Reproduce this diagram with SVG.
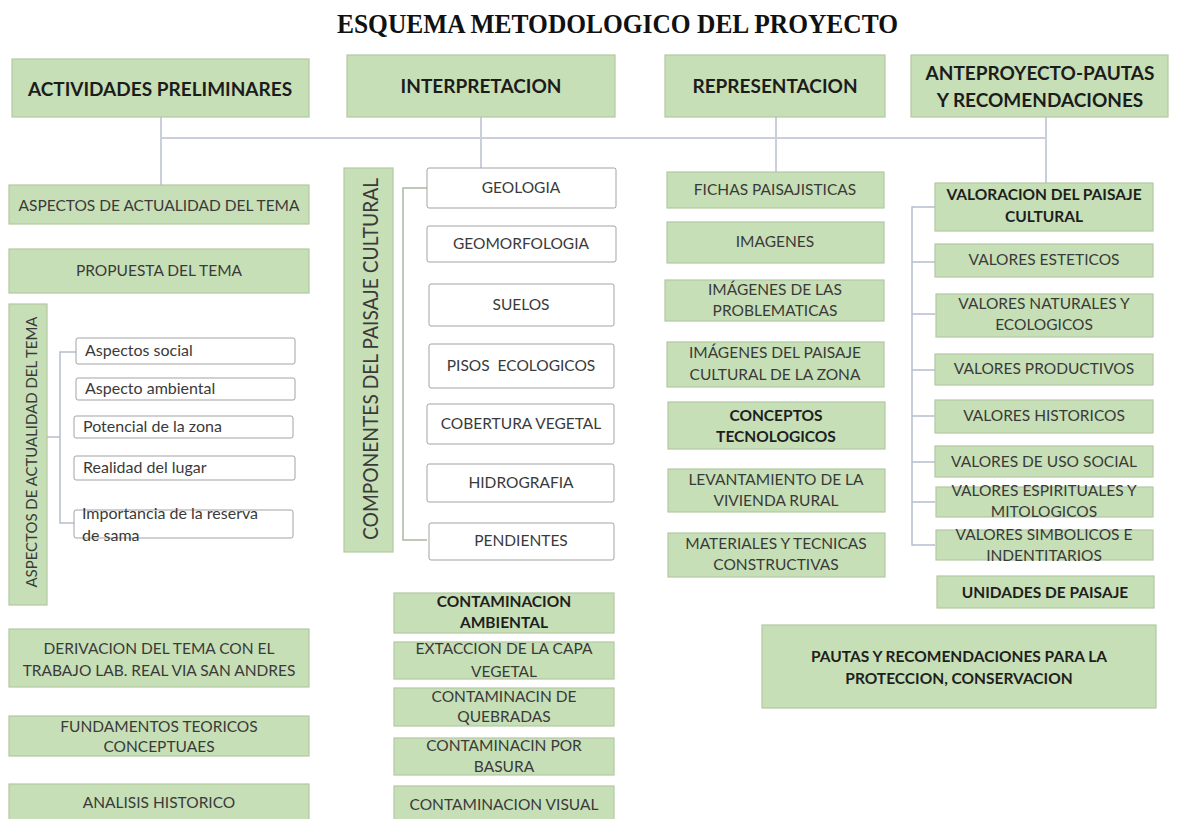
<svg xmlns="http://www.w3.org/2000/svg" width="1177" height="819" viewBox="0 0 1177 819">
<style>
.g{fill:#c7dfb6;stroke:#b2c9a2;stroke-width:1.2}
.w{fill:#ffffff;stroke:#a3a3a3;stroke-width:1}
.h{font-family:Lato,"Liberation Sans",sans-serif;font-weight:bold;font-size:19px;fill:#1c1c1c;text-anchor:middle}
.t{font-family:Lato,"Liberation Sans",sans-serif;font-size:15.5px;fill:#3a3a3a;text-anchor:middle}
.b{font-family:Lato,"Liberation Sans",sans-serif;font-weight:bold;font-size:15.5px;fill:#1e1e1e;text-anchor:middle}
.l{font-family:Lato,"Liberation Sans",sans-serif;font-size:16px;fill:#3a3a3a}
.c{fill:none;stroke:#c9d0db;stroke-width:2}
.k{fill:none;stroke:#b6bdd0;stroke-width:1.5}
.kg{fill:none;stroke:#aab89f;stroke-width:1.5}
.title{font-family:"Liberation Serif",serif;font-weight:bold;font-size:27px;fill:#111}
</style>
<text class="title" x="337" y="33" textLength="561" lengthAdjust="spacingAndGlyphs">ESQUEMA METODOLOGICO DEL PROYECTO</text>

<g id="connectors">
<path class="c" d="M161,138 H1046 M161,117 V185 M481,117 V168 M776,117 V172 M1046,117 V183"/>
<path class="k" d="M76,352 H60 V523 H74 M47,437 H60"/>
<path class="kg" d="M427,188 H403 V540 H427"/>
<path class="k" d="M935,207 H912 V545 H935 M912,262 H935 M912,314 H935 M912,370 H935 M912,416 H935 M912,462 H935 M912,502 H935"/>
</g>

<g id="n-actividades"><rect class="g" x="12" y="59" width="297" height="58"/><text class="h" x="160" y="96">ACTIVIDADES PRELIMINARES</text></g>
<g id="n-interpretacion"><rect class="g" x="347" y="55" width="268" height="62"/><text class="h" x="481" y="93">INTERPRETACION</text></g>
<g id="n-representacion"><rect class="g" x="665" y="55" width="220" height="62"/><text class="h" x="775" y="93">REPRESENTACION</text></g>
<g id="n-anteproyecto"><rect class="g" x="911" y="55" width="257" height="62"/><text class="h" x="1040" y="80">ANTEPROYECTO-PAUTAS</text><text class="h" x="1040" y="107">Y RECOMENDACIONES</text></g>

<g id="n-aspectos"><rect class="g" x="9" y="185" width="300" height="39"/><text class="t" x="159" y="211">ASPECTOS DE ACTUALIDAD DEL TEMA</text></g>
<g id="n-propuesta"><rect class="g" x="9" y="249" width="300" height="44"/><text class="t" x="159" y="276">PROPUESTA DEL TEMA</text></g>
<g id="n-aspectos-v"><rect class="g" x="9" y="304" width="38" height="301"/><text class="t" transform="translate(37,452) rotate(-90)" x="0" y="0" textLength="271" lengthAdjust="spacingAndGlyphs">ASPECTOS DE ACTUALIDAD DEL TEMA</text></g>
<g id="n-social"><rect class="w" x="76" y="338" width="219" height="26" rx="2"/><text class="l" x="85" y="356">Aspectos social</text></g>
<g id="n-ambiental"><rect class="w" x="76" y="378" width="219" height="22" rx="2"/><text class="l" x="85" y="394">Aspecto ambiental</text></g>
<g id="n-potencial"><rect class="w" x="74" y="416" width="219" height="22" rx="2"/><text class="l" x="83" y="432">Potencial de la zona</text></g>
<g id="n-realidad"><rect class="w" x="74" y="456" width="221" height="24" rx="2"/><text class="l" x="83" y="473">Realidad del lugar</text></g>
<g id="n-importancia"><rect class="w" x="74" y="510" width="219" height="28" rx="2"/><text class="l" x="82" y="519">Importancia de la reserva</text><text class="l" x="82" y="541">de sama</text></g>
<g id="n-derivacion"><rect class="g" x="9" y="629" width="300" height="58"/><text class="t" x="159" y="654">DERIVACION DEL TEMA CON EL</text><text class="t" x="159" y="676">TRABAJO LAB. REAL VIA SAN ANDRES</text></g>
<g id="n-fundamentos"><rect class="g" x="9" y="716" width="300" height="40"/><text class="t" x="159" y="732">FUNDAMENTOS TEORICOS</text><text class="t" x="159" y="752">CONCEPTUAES</text></g>
<g id="n-analisis"><rect class="g" x="9" y="784" width="300" height="40"/><text class="t" x="159" y="808">ANALISIS HISTORICO</text></g>

<g id="n-componentes"><rect class="g" x="344" y="168" width="49" height="384"/><text class="t" style="font-size:21px" transform="translate(378,359) rotate(-90)" x="0" y="0" textLength="362" lengthAdjust="spacingAndGlyphs">COMPONENTES DEL PAISAJE CULTURAL</text></g>
<g id="n-geologia"><rect class="w" x="427" y="168" width="189" height="40" rx="2"/><text class="t" x="521" y="193">GEOLOGIA</text></g>
<g id="n-geomorfologia"><rect class="w" x="427" y="226" width="189" height="36" rx="2"/><text class="t" x="521" y="249">GEOMORFOLOGIA</text></g>
<g id="n-suelos"><rect class="w" x="429" y="284" width="185" height="42" rx="2"/><text class="t" x="521" y="310">SUELOS</text></g>
<g id="n-pisos"><rect class="w" x="429" y="344" width="185" height="44" rx="2"/><text class="t" x="521" y="371">PISOS&#160; ECOLOGICOS</text></g>
<g id="n-cobertura"><rect class="w" x="427" y="404" width="187" height="40" rx="2"/><text class="t" x="521" y="429">COBERTURA VEGETAL</text></g>
<g id="n-hidrografia"><rect class="w" x="427" y="464" width="187" height="38" rx="2"/><text class="t" x="521" y="488">HIDROGRAFIA</text></g>
<g id="n-pendientes"><rect class="w" x="429" y="523" width="185" height="37" rx="2"/><text class="t" x="521" y="546">PENDIENTES</text></g>

<g id="n-contaminacion"><rect class="g" x="394" y="593" width="220" height="40"/><text class="b" x="504" y="607">CONTAMINACION</text><text class="b" x="504" y="628">AMBIENTAL</text></g>
<g id="n-extaccion"><rect class="g" x="394" y="642" width="220" height="37"/><text class="t" x="504" y="654">EXTACCION DE LA CAPA</text><text class="t" x="504" y="677">VEGETAL</text></g>
<g id="n-quebradas"><rect class="g" x="394" y="688" width="220" height="38"/><text class="t" x="504" y="702">CONTAMINACIN DE</text><text class="t" x="504" y="722">QUEBRADAS</text></g>
<g id="n-basura"><rect class="g" x="394" y="738" width="220" height="37"/><text class="t" x="504" y="751">CONTAMINACIN POR</text><text class="t" x="504" y="772">BASURA</text></g>
<g id="n-visual"><rect class="g" x="394" y="786" width="220" height="40"/><text class="t" x="504" y="810">CONTAMINACION VISUAL</text></g>

<g id="n-fichas"><rect class="g" x="667" y="172" width="217" height="36"/><text class="t" x="775" y="195">FICHAS PAISAJISTICAS</text></g>
<g id="n-imagenes"><rect class="g" x="667" y="222" width="217" height="41"/><text class="t" x="775" y="247">IMAGENES</text></g>
<g id="n-img-problematicas"><rect class="g" x="665" y="280" width="219" height="41"/><text class="t" x="775" y="295">IMÁGENES DE LAS</text><text class="t" x="775" y="316">PROBLEMATICAS</text></g>
<g id="n-img-paisaje"><rect class="g" x="667" y="342" width="217" height="45"/><text class="t" x="775" y="358">IMÁGENES DEL PAISAJE</text><text class="t" x="775" y="380">CULTURAL DE LA ZONA</text></g>
<g id="n-conceptos"><rect class="g" x="668" y="402" width="217" height="47"/><text class="b" x="776" y="421">CONCEPTOS</text><text class="b" x="776" y="442">TECNOLOGICOS</text></g>
<g id="n-levantamiento"><rect class="g" x="668" y="469" width="217" height="43"/><text class="t" x="776" y="485">LEVANTAMIENTO DE LA</text><text class="t" x="776" y="506">VIVIENDA RURAL</text></g>
<g id="n-materiales"><rect class="g" x="668" y="533" width="217" height="44"/><text class="t" x="776" y="549">MATERIALES Y TECNICAS</text><text class="t" x="776" y="570">CONSTRUCTIVAS</text></g>

<g id="n-valoracion"><rect class="g" x="935" y="183" width="218" height="48"/><text class="b" x="1044" y="200">VALORACION DEL PAISAJE</text><text class="b" x="1044" y="222">CULTURAL</text></g>
<g id="n-esteticos"><rect class="g" x="935" y="244" width="218" height="33"/><text class="t" x="1044" y="265">VALORES ESTETICOS</text></g>
<g id="n-naturales"><rect class="g" x="936" y="294" width="217" height="43"/><text class="t" x="1044" y="309">VALORES NATURALES Y</text><text class="t" x="1044" y="330">ECOLOGICOS</text></g>
<g id="n-productivos"><rect class="g" x="935" y="354" width="218" height="31"/><text class="t" x="1044" y="374">VALORES PRODUCTIVOS</text></g>
<g id="n-historicos"><rect class="g" x="935" y="400" width="218" height="33"/><text class="t" x="1044" y="421">VALORES HISTORICOS</text></g>
<g id="n-uso-social"><rect class="g" x="935" y="446" width="218" height="31"/><text class="t" x="1044" y="467">VALORES DE USO SOCIAL</text></g>
<g id="n-espirituales"><rect class="g" x="936" y="487" width="217" height="30"/><text class="t" x="1044" y="496">VALORES ESPIRITUALES Y</text><text class="t" x="1044" y="517">MITOLOGICOS</text></g>
<g id="n-simbolicos"><rect class="g" x="936" y="530" width="217" height="30"/><text class="t" x="1044" y="540">VALORES SIMBOLICOS E</text><text class="t" x="1044" y="561">INDENTITARIOS</text></g>
<g id="n-unidades"><rect class="g" x="937" y="576" width="217" height="32"/><text class="b" x="1045" y="598">UNIDADES DE PAISAJE</text></g>
<g id="n-pautas"><rect class="g" x="762" y="625" width="394" height="83"/><text class="b" x="959" y="662">PAUTAS Y RECOMENDACIONES PARA LA</text><text class="b" x="959" y="684">PROTECCION, CONSERVACION</text></g>
</svg>
